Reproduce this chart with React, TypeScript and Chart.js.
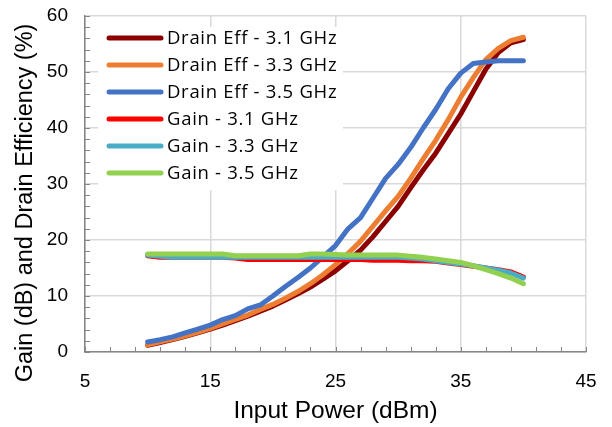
import React, { useEffect, useRef } from "react";
import { Chart, registerables } from "chart.js";

Chart.register(...registerables);

const inputPower = [10, 11, 12, 13, 14, 15, 16, 17, 18, 19, 20, 21, 22, 23, 24, 25, 26, 27, 28, 29, 30, 31, 32, 33, 34, 35, 36, 37, 38, 39, 40];

const drainEff31 = [1.2, 1.7, 2.2, 2.8, 3.4, 4.1, 4.8, 5.6, 6.4, 7.3, 8.2, 9.3, 10.4, 11.6, 13.0, 14.5, 16.3, 18.2, 20.6, 23.3, 26.0, 29.3, 32.5, 35.5, 39.0, 42.5, 46.5, 50.5, 53.5, 55.2, 55.8];
const drainEff33 = [1.3, 1.8, 2.3, 2.9, 3.5, 4.2, 5.0, 5.8, 6.6, 7.6, 8.5, 9.6, 10.8, 12.2, 13.8, 15.6, 17.6, 19.8, 22.5, 25.2, 27.8, 31.0, 34.5, 37.8, 41.5, 45.5, 49.0, 52.2, 54.2, 55.6, 56.2];
const drainEff35 = [1.8, 2.2, 2.7, 3.4, 4.1, 4.8, 5.8, 6.5, 7.7, 8.4, 10.0, 11.7, 13.3, 15.0, 17.0, 19.0, 22.0, 24.0, 27.5, 31.0, 33.5, 36.5, 40.0, 43.3, 47.0, 49.8, 51.5, 51.8, 52.0, 52.0, 52.0];
const gain31 = [17.2, 16.9, 16.9, 16.9, 16.9, 16.9, 16.9, 16.8, 16.5, 16.5, 16.5, 16.5, 16.5, 16.5, 16.5, 16.5, 16.5, 16.5, 16.4, 16.4, 16.4, 16.3, 16.3, 16.2, 15.9, 15.6, 15.3, 15.0, 14.7, 14.3, 13.4];
const gain33 = [17.3, 17.1, 16.9, 16.9, 16.9, 16.9, 16.9, 16.9, 16.9, 16.9, 16.9, 16.9, 16.9, 16.9, 16.9, 16.9, 16.9, 16.9, 16.9, 16.9, 16.9, 16.8, 16.6, 16.3, 16.0, 15.7, 15.4, 15.0, 14.6, 14.1, 13.2];
const gain35 = [17.5, 17.5, 17.5, 17.5, 17.5, 17.5, 17.5, 17.2, 17.2, 17.2, 17.2, 17.2, 17.2, 17.5, 17.5, 17.4, 17.3, 17.3, 17.3, 17.3, 17.3, 17.1, 16.9, 16.6, 16.3, 16.0, 15.4, 14.7, 14.0, 13.2, 12.2];

const seriesLabels = [
  "Drain Eff - 3.1 GHz",
  "Drain Eff - 3.3 GHz",
  "Drain Eff - 3.5 GHz",
  "Gain - 3.1 GHz",
  "Gain - 3.3 GHz",
  "Gain - 3.5 GHz",
];
const seriesValues = [drainEff31, drainEff33, drainEff35, gain31, gain33, gain35];
const seriesColors = ["#8B0000", "#ED7D31", "#4472C4", "#FF0000", "#4BACC6", "#92D050"];

const xTitle = "Input Power (dBm)";
const yTitle = "Gain (dB) and Drain Efficiency (%)";
const X_MIN = 5, X_MAX = 45, X_STEP = 10, X_MINOR = 2;
const Y_MIN = 0, Y_MAX = 60, Y_STEP = 10, Y_MINOR = 2;

const AXIS_COLOR = "#868686";
const GRID_COLOR = "#D9D9D9";
const TICK_FONT = "Liberation Sans";
const LEGEND_FONT = "'Open Sans'";

const minorTicksPlugin = {
  id: "minorTicks",
  beforeDatasetsDraw(chart: any) {
    const { ctx, chartArea: a, scales } = chart;
    const x = scales.x, y = scales.y;
    ctx.save();
    ctx.strokeStyle = AXIS_COLOR;
    ctx.lineWidth = 1;
    ctx.beginPath();
    for (let v = X_MIN; v <= X_MAX + 1e-9; v += X_MINOR) {
      const px = Math.round(x.getPixelForValue(v)) + 0.5;
      ctx.moveTo(px, a.bottom);
      ctx.lineTo(px, a.bottom - 5);
    }
    for (let v = Y_MIN; v <= Y_MAX + 1e-9; v += Y_MINOR) {
      const py = Math.round(y.getPixelForValue(v)) + 0.5;
      ctx.moveTo(a.left, py);
      ctx.lineTo(a.left + 5, py);
    }
    ctx.stroke();
    ctx.restore();
  },
};

const legendPlugin = {
  id: "insideLegend",
  afterDatasetsDraw(chart: any) {
    const { ctx, chartArea: a } = chart;
    const boxL = a.left + 13, boxT = a.top + 11, boxW = 245, boxH = 163;
    ctx.save();
    ctx.fillStyle = "#FFFFFF";
    ctx.fillRect(boxL, boxT, boxW, boxH);
    const rowH = 27;
    chart.data.datasets.forEach((ds: any, i: number) => {
      const cy = boxT + 11 + i * rowH;
      ctx.strokeStyle = ds.borderColor;
      ctx.lineWidth = 5;
      ctx.lineCap = "round";
      ctx.beginPath();
      ctx.moveTo(boxL + 11, cy);
      ctx.lineTo(boxL + 63, cy);
      ctx.stroke();
      ctx.fillStyle = "#000000";
      ctx.font = `18.5px ${LEGEND_FONT}`;
      (ctx as any).letterSpacing = "0.7px";
      ctx.textAlign = "left";
      ctx.textBaseline = "middle";
      ctx.fillText(ds.label, boxL + 69, cy + 1);
    });
    ctx.restore();
  },
};

const axisTitlePlugin = {
  id: "axisTitles",
  afterDraw(chart: any) {
    const { ctx, chartArea: a } = chart;
    ctx.save();
    ctx.fillStyle = "#000000";
    ctx.textAlign = "center";
    ctx.textBaseline = "middle";
    ctx.font = `24.5px ${TICK_FONT}`;
    ctx.fillText(xTitle, (a.left + a.right) / 2, 411);
    ctx.font = `23.5px ${TICK_FONT}`;
    ctx.translate(26, 203);
    ctx.rotate(-Math.PI / 2);
    ctx.fillText(yTitle, 0, 0);
    ctx.restore();
  },
};

export default function App() {
  const ref = useRef<HTMLCanvasElement | null>(null);
  useEffect(() => {
    if (!ref.current) return;
    const datasets = seriesLabels.map((label, i) => ({
      label,
      data: inputPower.map((p, j) => ({ x: p, y: seriesValues[i][j] })),
      borderColor: seriesColors[i],
      backgroundColor: seriesColors[i],
      borderWidth: 5,
      pointRadius: 0,
      tension: 0,
      borderCapStyle: "round" as const,
      borderJoinStyle: "round" as const,
      fill: false,
      order: seriesLabels.length - i,
    }));
    const chart = new Chart(ref.current, {
      type: "line",
      data: { datasets },
      options: {
        responsive: false,
        animation: false,
        layout: { padding: { top: 16, right: 26, left: 0, bottom: 0 } },
        plugins: { legend: { display: false }, tooltip: { enabled: false } },
        scales: {
          x: {
            type: "linear",
            min: X_MIN,
            max: X_MAX,
            ticks: { stepSize: X_STEP, padding: 0, color: "#000", font: { family: TICK_FONT, size: 19 } },
            grid: { color: GRID_COLOR, lineWidth: 1.5, drawTicks: true, tickLength: 18, tickColor: "rgba(0,0,0,0)" },
            border: { color: AXIS_COLOR, width: 1.5 },
            afterFit(scale: any) { scale.height = 75; },
          },
          y: {
            min: Y_MIN,
            max: Y_MAX,
            ticks: { stepSize: Y_STEP, padding: 0, color: "#000", font: { family: TICK_FONT, size: 19 } },
            grid: { color: GRID_COLOR, lineWidth: 1.5, drawTicks: true, tickLength: 17, tickColor: "rgba(0,0,0,0)" },
            border: { color: AXIS_COLOR, width: 1.5 },
            afterFit(scale: any) { scale.width = 85; },
          },
        },
      },
      plugins: [minorTicksPlugin, legendPlugin, axisTitlePlugin],
    });
    return () => chart.destroy();
  }, []);
  return (
    <div style={{ position: "absolute", left: 0, top: 0, width: 612, height: 427, background: "#fff" }}>
      <canvas ref={ref} width={612} height={427} />
    </div>
  );
}
